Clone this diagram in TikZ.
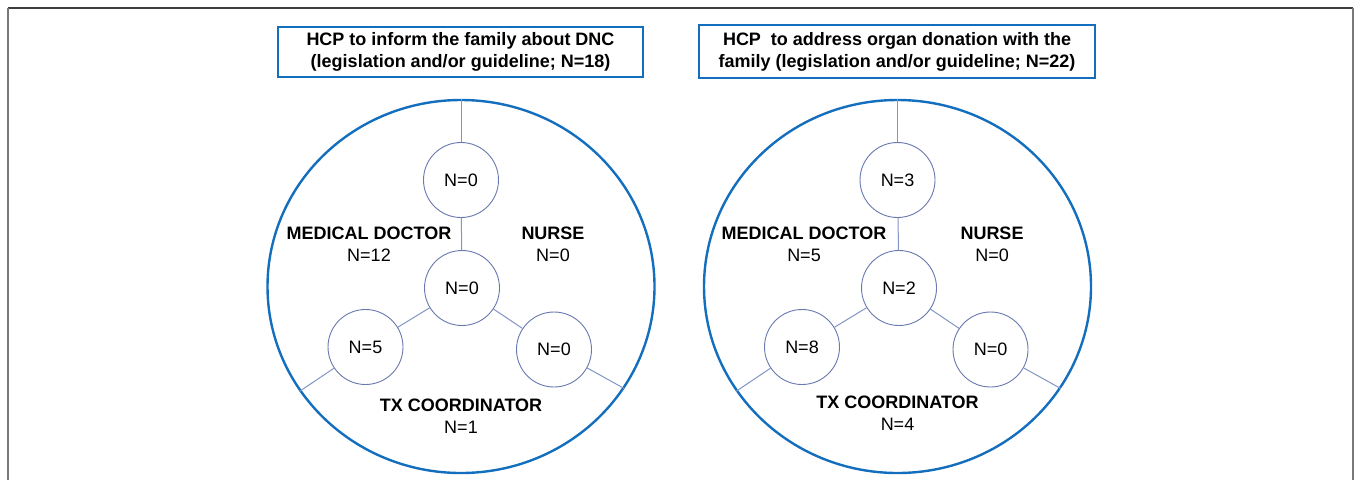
\documentclass[tikz,border=0pt]{standalone}
\usepackage{fontspec}
\setmainfont{Liberation Sans}
\usetikzlibrary{shapes.geometric}
\definecolor{ringblue}{RGB}{20,110,190}
\definecolor{countblue}{RGB}{105,120,175}
\definecolor{linkblue}{RGB}{130,150,195}
\definecolor{framedark}{RGB}{60,60,60}
\definecolor{frameside}{RGB}{120,120,120}
\tikzset{
  txt/.style={font=\fontsize{18}{22}\selectfont},
  ring/.style={ellipse, draw=ringblue, line width=2.4pt, minimum width=387pt,
    minimum height=373pt, inner sep=0pt},
  count/.style={circle, draw=countblue, line width=0.9pt, fill=white,
    minimum size=75pt, inner sep=0pt, txt},
  link/.style={draw=linkblue, line width=1pt},
  role/.style={align=center, txt},
  titlebox/.style={draw=ringblue, line width=2pt, align=center, inner sep=0pt,
    font=\bfseries\fontsize{18}{22}\selectfont}
}
\begin{document}
\begin{tikzpicture}[x=1pt, y=-1pt]
\useasboundingbox (0,0) rectangle (1356,480);
% outer frame, open at the bottom
\draw[framedark, line width=1.4pt] (8,8) -- (1353,8);
\draw[frameside, line width=1.4pt] (8,8) -- (8,480);
\draw[frameside, line width=1.4pt] (1353,8) -- (1353,480);

% ---------- left panel: informing the family about DNC ----------
\node[titlebox, minimum width=365pt, minimum height=50pt] (tA) at (460.5,52)
  {HCP to inform the family about DNC\\(legislation and/or guideline; N=18)};
\node[ring] (ringA) at (461,286.5) {};
\node[count] (topA) at (461,180) {N=0};
\node[count] (midA) at (462,288) {N=0};
\node[count] (leftA) at (365.5,347) {N=5};
\node[count] (rightA) at (554,349.5) {N=0};
\draw[link] (ringA.90) -- (topA);
\draw[link] (topA) -- (midA);
\draw[link] (midA) -- (leftA);
\draw[link] (midA) -- (rightA);
\draw[link] (leftA) -- (ringA.213);
\draw[link] (rightA) -- (ringA.328);
\node[role] (mdA) at (369,244) {\textbf{MEDICAL DOCTOR}\\N=12};
\node[role] (nuA) at (553,244) {\textbf{NURSE}\\N=0};
\node[role] (txA) at (461,416) {\textbf{TX COORDINATOR}\\N=1};

% ---------- right panel: addressing organ donation ----------
\node[titlebox, minimum width=396pt, minimum height=53pt] (tB) at (897,51.5)
  {HCP~~to address organ donation with the\\family (legislation and/or guideline; N=22)};
\node[ring] (ringB) at (897.5,286.5) {};
\node[count] (topB) at (897.5,180) {N=3};
\node[count] (midB) at (899,288) {N=2};
\node[count] (leftB) at (802,347) {N=8};
\node[count] (rightB) at (990.5,349.5) {N=0};
\draw[link] (ringB.90) -- (topB);
\draw[link] (topB) -- (midB);
\draw[link] (midB) -- (leftB);
\draw[link] (midB) -- (rightB);
\draw[link] (leftB) -- (ringB.213);
\draw[link] (rightB) -- (ringB.328);
\node[role] (mdB) at (804,244) {\textbf{MEDICAL DOCTOR}\\N=5};
\node[role] (nuB) at (992,244) {\textbf{NURSE}\\N=0};
\node[role] (txB) at (897.5,413) {\textbf{TX COORDINATOR}\\N=4};
\end{tikzpicture}
\end{document}
